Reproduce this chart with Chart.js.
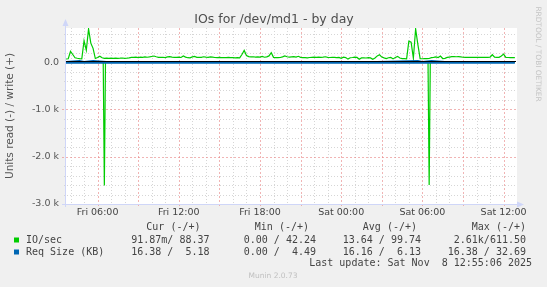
<!DOCTYPE html>
<html>
<head>
<meta charset="utf-8">
<script src="https://cdn.jsdelivr.net/npm/chart.js@4.4.1/dist/chart.umd.min.js"></script>
<style>
  html, body { margin: 0; padding: 0; background: #f0f0f0; }
  canvas { display: block; }
</style>
</head>
<body>
<canvas id="ioChart" width="547" height="287"></canvas>
<script>
// x values are minutes since Fri 00:00
const startMinute = 220;   // Fri 03:40
const endMinute = 2215;    // Sat 12:55
const ioTimes = [];
for (let m = startMinute; m <= 2210; m += 10) ioTimes.push(m);

// IO/sec, write (+), one value per 10 minutes
const ioWrite = [
  65, 70, 225, 160, 90, 80, 72, 70, 450, 250,
  700, 400, 290, 75, 95, 125, 90, 80, 85, 78,
  82, 80, 85, 80, 82, 86, 80, 84, 90, 100,
  98, 104, 96, 105, 100, 110, 102, 108, 118, 128,
  112, 100, 98, 102, 96, 110, 114, 104, 98, 100,
  103, 97, 128, 104, 92, 88, 110, 120, 100, 102,
  98, 112, 105, 100, 108, 104, 96, 94, 98, 92,
  96, 94, 97, 92, 95, 90, 94, 88, 160, 246,
  140, 115, 108, 112, 104, 110, 106, 118, 102, 110,
  130, 198, 100, 95, 92, 96, 110, 130, 112, 106,
  110, 115, 104, 122, 100, 93, 95, 90, 96, 100,
  104, 98, 106, 100, 105, 112, 100, 97, 102, 98,
  95, 100, 80, 103, 95, 62, 92, 96, 106, 98,
  60, 88, 90, 86, 92, 88, 60, 85, 130, 155,
  105, 88, 74, 92, 98, 67, 95, 120, 85, 72,
  74, 70, 442, 420, 80, 700, 370, 72, 70, 74,
  72, 75, 93, 100, 110, 96, 126, 75, 78, 98,
  106, 113, 115, 112, 114, 110, 102, 100, 98, 102,
  100, 98, 101, 99, 100, 98, 100, 99, 102, 155,
  104, 98, 100, 130, 168, 100, 96, 94, 96, 95
];

// IO/sec, read (-), 5 minute samples around the two bursts
const readTimes = [220, 380, 385, 390, 395, 400, 1820, 1825, 1830, 1835, 1840, 2210];
const ioRead = [-2, -3, -3, -2610, -4, -3, -2, -4, -2600, -5, -3, -2];

// Req Size (KB)
const sizeTimes = [220, 280, 300, 340, 400, 700, 1000, 1300, 1600, 1780, 1800, 1840, 1900, 2210];
const sizeWrite = [5, 30, 6, 30, 5, 6, 5, 6, 5, 30, 6, 28, 5, 5];
const sizeRead = [-16.38, -16.38, -16.2, -16.38, -16, -16.38, -16.2, -16.38, -16.3, -16.38, -16.2, -16.38, -16.38, -16.38];

const yTicks = [-3000, -2800, -2600, -2400, -2200, -2000, -1800, -1600, -1400, -1200,
  -1000, -800, -600, -400, -200, 0, 200, 400, 600];

// legend table
const legendHeads = ["Cur (-/+)", "Min (-/+)", "Avg (-/+)", "Max (-/+)"];
const legendNames = ["IO/sec", "Req Size (KB)"];
const legendColors = ["#00cc00", "#0066b3"];
const legendRows = [
  ["91.87m/ 88.37", "0.00 / 42.24", "13.64 / 99.74", "2.61k/611.50"],
  ["16.38 /  5.18", "0.00 /  4.49", "16.16 /  6.13", "16.38 / 32.69"]
];
const lastUpdate = "Last update: Sat Nov  8 12:55:06 2025";

const pairs = (xs, ys) => xs.map((x, i) => ({ x: x, y: ys[i] }));

const muninPlugin = {
  id: "munin",
  beforeDraw(chart) {
    const c = chart.ctx, a = chart.chartArea;
    c.save();
    c.fillStyle = "#f0f0f0";
    c.fillRect(0, 0, chart.width, chart.height);
    c.fillStyle = "#ffffff";
    c.fillRect(a.left, a.top, a.right - a.left + 1, a.bottom - a.top);
    c.restore();
  },
  beforeDatasetsDraw(chart) {
    const c = chart.ctx, a = chart.chartArea;
    const xs = chart.scales.x, ys = chart.scales.y;
    c.save();
    c.lineWidth = 1;
    // vertical grid, every hour, major every 3h
    xs.ticks.forEach(t => {
      const px = Math.round(xs.getPixelForValue(t.value)) + 0.5;
      const major = t.value % 180 === 0;
      c.strokeStyle = major ? "rgba(232,130,130,0.6)" : "#d6d6d6";
      c.setLineDash(major ? [2, 2] : [1, 2]);
      c.beginPath();
      c.moveTo(px, a.top);
      c.lineTo(px, major ? a.bottom + 3 : a.bottom);
      c.stroke();
    });
    // horizontal grid, every 200, major every 1000
    ys.ticks.forEach(t => {
      if (t.value === 0) return;
      const py = Math.round(ys.getPixelForValue(t.value)) + 0.5;
      const major = t.value % 1000 === 0;
      c.strokeStyle = major ? "rgba(232,130,130,0.6)" : "#d6d6d6";
      c.setLineDash(major ? [2, 2] : [1, 2]);
      c.beginPath();
      c.moveTo(major ? a.left - 4 : a.left - 2, py);
      c.lineTo(a.right, py);
      c.stroke();
    });
    c.restore();
  },
  afterDatasetsDraw(chart) {
    const c = chart.ctx, a = chart.chartArea;
    const ys = chart.scales.y;
    c.save();
    // zero line
    const y0 = Math.round(ys.getPixelForValue(0)) - 0.5;
    c.strokeStyle = "#000000";
    c.lineWidth = 1;
    c.beginPath();
    c.moveTo(a.left, y0);
    c.lineTo(a.right, y0);
    c.stroke();
    // axes with arrows
    c.strokeStyle = "#cfd6f8";
    c.fillStyle = "#cfd6f8";
    c.beginPath();
    c.moveTo(a.left - 0.5, a.bottom + 3);
    c.lineTo(a.left - 0.5, 24);
    c.moveTo(a.left - 4, a.bottom + 0.5);
    c.lineTo(a.right + 2, a.bottom + 0.5);
    c.stroke();
    c.beginPath();
    c.moveTo(a.left - 3.5, 26);
    c.lineTo(a.left + 2.5, 26);
    c.lineTo(a.left - 0.5, 19);
    c.closePath();
    c.fill();
    c.beginPath();
    c.moveTo(a.right + 1, a.bottom - 2.5);
    c.lineTo(a.right + 1, a.bottom + 3.5);
    c.lineTo(a.right + 8, a.bottom + 0.5);
    c.closePath();
    c.fill();

    // title
    c.fillStyle = "#4d4d4d";
    c.font = "12.5px 'DejaVu Sans'";
    c.textAlign = "center";
    c.textBaseline = "middle";
    c.fillText("IOs for /dev/md1 - by day", 274, 20);

    // vertical axis title
    c.save();
    c.translate(10, (a.top + a.bottom) / 2);
    c.rotate(-Math.PI / 2);
    c.font = "10.5px 'DejaVu Sans'";
    c.fillStyle = "#555555";
    c.fillText("Units read (-) / write (+)", 0, 0);
    c.restore();

    // rrdtool watermark
    c.save();
    c.translate(538, 54);
    c.rotate(Math.PI / 2);
    c.font = "7.4px 'DejaVu Sans'";
    c.fillStyle = "#c4c4c4";
    c.fillText("RRDTOOL / TOBI OETIKER", 0, 0);
    c.restore();

    // legend
    c.font = "10px 'DejaVu Sans Mono'";
    c.fillStyle = "#444444";
    c.textAlign = "right";
    const headX = [200.5, 309, 417, 526];
    const colX = [209.5, 316, 421, 526];
    legendHeads.forEach((h, i) => c.fillText(h, headX[i], 227.5));
    const rowY = [240, 252];
    legendRows.forEach((row, r) => {
      c.fillStyle = legendColors[r];
      c.fillRect(14, rowY[r] - 2.5, 5, 5);
      c.fillStyle = "#444444";
      c.textAlign = "left";
      c.fillText(legendNames[r], 26, rowY[r]);
      c.textAlign = "right";
      row.forEach((v, i) => c.fillText(v, colX[i], rowY[r]));
    });
    c.fillText(lastUpdate, 532, 263.5);

    c.textAlign = "center";
    c.font = "7.5px 'DejaVu Sans'";
    c.fillStyle = "#c0c0c0";
    c.fillText("Munin 2.0.73", 273, 276);
    c.restore();
  }
};

const dayNames = ["Fri", "Sat"];
function timeLabel(v) {
  if (v % 360 !== 0) return "";
  const d = Math.floor(v / 1440);
  const h = Math.floor((v % 1440) / 60);
  return dayNames[d] + " " + String(h).padStart(2, "0") + ":00";
}
function unitLabel(v) {
  if (v % 1000 !== 0) return "";
  if (v === 0) return "0.0";
  return (v / 1000).toFixed(1) + " k";
}

const ctx = document.getElementById("ioChart").getContext("2d");
const ioChart = new Chart(ctx, {
  type: "line",
  data: {
    datasets: [
      { label: "Req Size read", data: pairs(sizeTimes, sizeRead), borderColor: "#0066b3", borderWidth: 2, order: 0 },
      { label: "Req Size write", data: pairs(sizeTimes, sizeWrite), borderColor: "#0066b3", borderWidth: 1.5, order: 0 },
      { label: "IO/sec read", data: pairs(readTimes, ioRead), borderColor: "#00cc00", borderWidth: 1.2, order: 1 },
      { label: "IO/sec write", data: pairs(ioTimes, ioWrite), borderColor: "#00cc00", borderWidth: 1.2, order: 1 }
    ]
  },
  options: {
    responsive: false,
    animation: false,
    elements: { point: { radius: 0 }, line: { tension: 0 } },
    layout: { padding: { top: 28, right: 31, bottom: 0, left: 0 } },
    plugins: { legend: { display: false }, tooltip: { enabled: false } },
    scales: {
      x: {
        type: "linear",
        min: startMinute,
        max: endMinute,
        afterBuildTicks: s => {
          const t = [];
          for (let m = 240; m <= 2160; m += 60) t.push({ value: m });
          s.ticks = t;
        },
        afterFit: s => { s.height = 83; },
        grid: { display: false, drawTicks: false },
        border: { display: false },
        ticks: {
          autoSkip: false, maxRotation: 0, padding: 3,
          color: "#444444",
          font: { family: "DejaVu Sans", size: 9.5 },
          callback: v => timeLabel(v)
        }
      },
      y: {
        min: -3000,
        max: 720,
        afterBuildTicks: s => { s.ticks = yTicks.map(v => ({ value: v })); },
        afterFit: s => { s.width = 66; },
        grid: { display: false, drawTicks: false },
        border: { display: false },
        ticks: {
          autoSkip: false, padding: 7,
          color: "#555555",
          font: { family: "DejaVu Sans", size: 9.5 },
          callback: v => unitLabel(v)
        }
      }
    }
  },
  plugins: [muninPlugin]
});
</script>
</body>
</html>
